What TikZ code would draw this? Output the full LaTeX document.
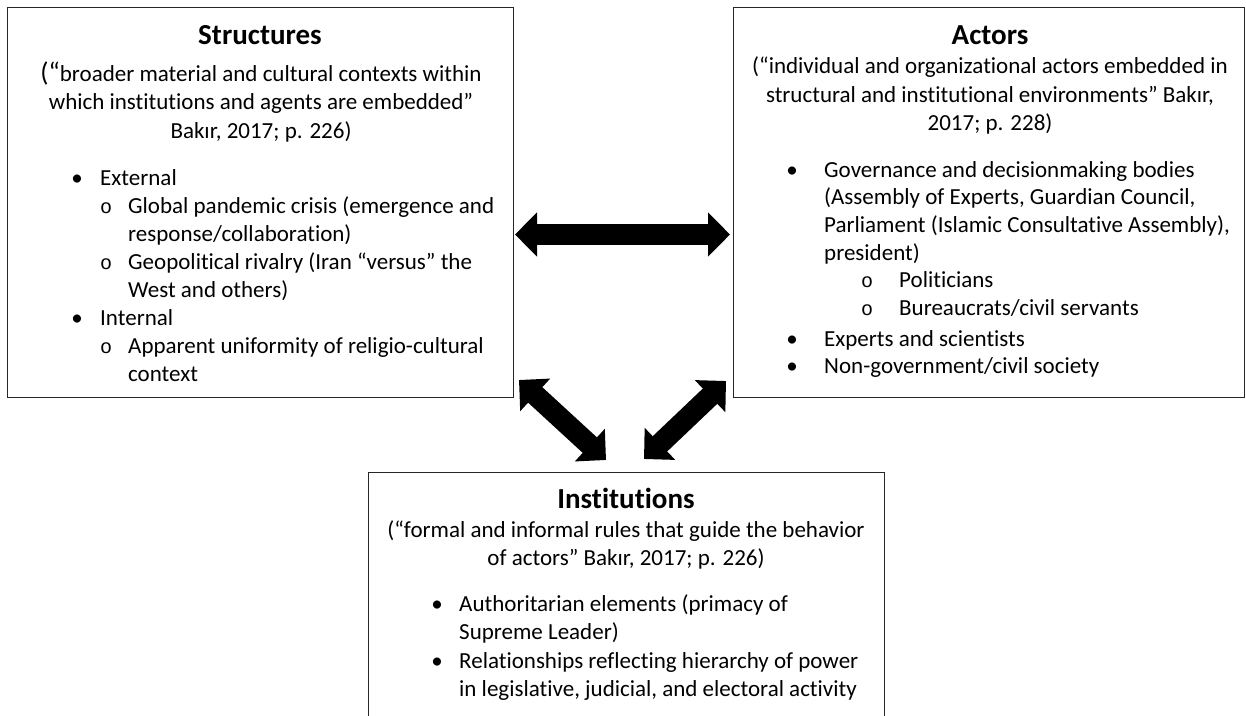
\documentclass[tikz,border=0pt]{standalone}
\usepackage{fontspec}
\setmainfont{Carlito}[Ligatures=NoCommon]
\newfontfamily\monofnt{Liberation Mono}
\usetikzlibrary{arrows.meta}
\begin{document}
\begin{tikzpicture}[x=1pt,y=-1pt,
  box/.style={draw=black!85, line width=1.3pt, inner sep=0pt, anchor=north west},
  ttl/.style={font=\fontsize{29}{34}\selectfont\bfseries, anchor=base, inner sep=0pt},
  qt/.style={font=\fontsize{23}{28}\selectfont, anchor=base, inner sep=0pt},
  txt/.style={font=\fontsize{23}{28}\selectfont, anchor=base west, inner sep=0pt},
  bul/.style={font=\fontsize{23}{28}\selectfont, anchor=base, inner sep=0pt},
  sub/.style={font=\fontsize{20}{28}\monofnt, anchor=base, inner sep=0pt},
  bigarrow/.style={line width=21pt, line cap=butt,
    {Triangle[length=22pt,width=43pt]}-{Triangle[length=22pt,width=43pt]}}
]
\useasboundingbox (0,0) rectangle (1246,715);
\clip (0,0) rectangle (1246,715);
\fill[white] (0,0) rectangle (1246,715);

% boxes
\node[box, minimum width=506pt, minimum height=390pt] (S) at (7,7) {};
\node[box, minimum width=511pt, minimum height=390pt] (A) at (733,7) {};
\node[box, minimum width=516pt, minimum height=300pt] (I) at (368,472) {};

% Structures
\node[ttl] (st) at (260,44) {Structures};
\node[qt] (sq1) at (261,81) {{\fontsize{27}{28}\selectfont(“}broader material and cultural contexts within};
\node[qt] (sq2) at (261,109) {which institutions and agents are embedded”};
\node[qt] (sq3) at (261,138) {Bakır, 2017; p. 226)};
\node[bul] (sb1) at (77,185) {•};
\node[txt] (s1) at (100,185) {External};
\node[sub] (so1) at (106,213) {o};
\node[txt] (s2) at (128,213) {Global pandemic crisis (emergence and};
\node[txt] (s3) at (128,241) {response/collaboration)};
\node[sub] (so2) at (106,269) {o};
\node[txt] (s4) at (128,269) {Geopolitical rivalry (Iran “versus” the};
\node[txt] (s5) at (128,297) {West and others)};
\node[bul] (sb2) at (77,325) {•};
\node[txt] (s6) at (100,325) {Internal};
\node[sub] (so3) at (106,353) {o};
\node[txt] (s7) at (128,353) {Apparent uniformity of religio-cultural};
\node[txt] (s8) at (128,381) {context};

% Actors
\node[ttl] (at) at (990,44) {Actors};
\node[qt] (aq1) at (990,73) {(“individual and organizational actors embedded in};
\node[qt] (aq2) at (990,102) {structural and institutional environments” Bakır,};
\node[qt] (aq3) at (990,130) {2017; p. 228)};
\node[bul] (ab1) at (792,177) {•};
\node[txt] (a1) at (824,177) {Governance and decisionmaking bodies};
\node[txt] (a2) at (824,204) {(Assembly of Experts, Guardian Council,};
\node[txt] (a3) at (824,232) {Parliament (Islamic Consultative Assembly),};
\node[txt] (a4) at (824,260) {president)};
\node[sub] (ao1) at (867,287) {o};
\node[txt] (a5) at (899,287) {Politicians};
\node[sub] (ao2) at (867,315) {o};
\node[txt] (a6) at (899,315) {Bureaucrats/civil servants};
\node[bul] (ab2) at (792,346) {•};
\node[txt] (a7) at (824,346) {Experts and scientists};
\node[bul] (ab3) at (792,373) {•};
\node[txt] (a8) at (824,373) {Non-government/civil society};

% Institutions
\node[ttl] (it) at (626,508) {Institutions};
\node[qt] (iq1) at (626,537) {(“formal and informal rules that guide the behavior};
\node[qt] (iq2) at (626,565) {of actors” Bakır, 2017; p. 226)};
\node[bul] (ib1) at (437,611) {•};
\node[txt] (i1) at (459,611) {Authoritarian elements (primacy of};
\node[txt] (i2) at (459,639) {Supreme Leader)};
\node[bul] (ib2) at (437,668) {•};
\node[txt] (i3) at (459,668) {Relationships reflecting hierarchy of power};
\node[txt] (i4) at (459,696) {in legislative, judicial, and electoral activity};

% arrows
\coordinate (hL) at (515,234.5);
\coordinate (hR) at (730,234.5);
\coordinate (dLt) at (519,380);
\coordinate (dLb) at (606,460);
\coordinate (dRt) at (726,381);
\coordinate (dRb) at (644,459);
\draw[bigarrow] (hL) -- (hR);
\draw[bigarrow] (dLt) -- (dLb);
\draw[bigarrow] (dRt) -- (dRb);
\end{tikzpicture}
\end{document}
